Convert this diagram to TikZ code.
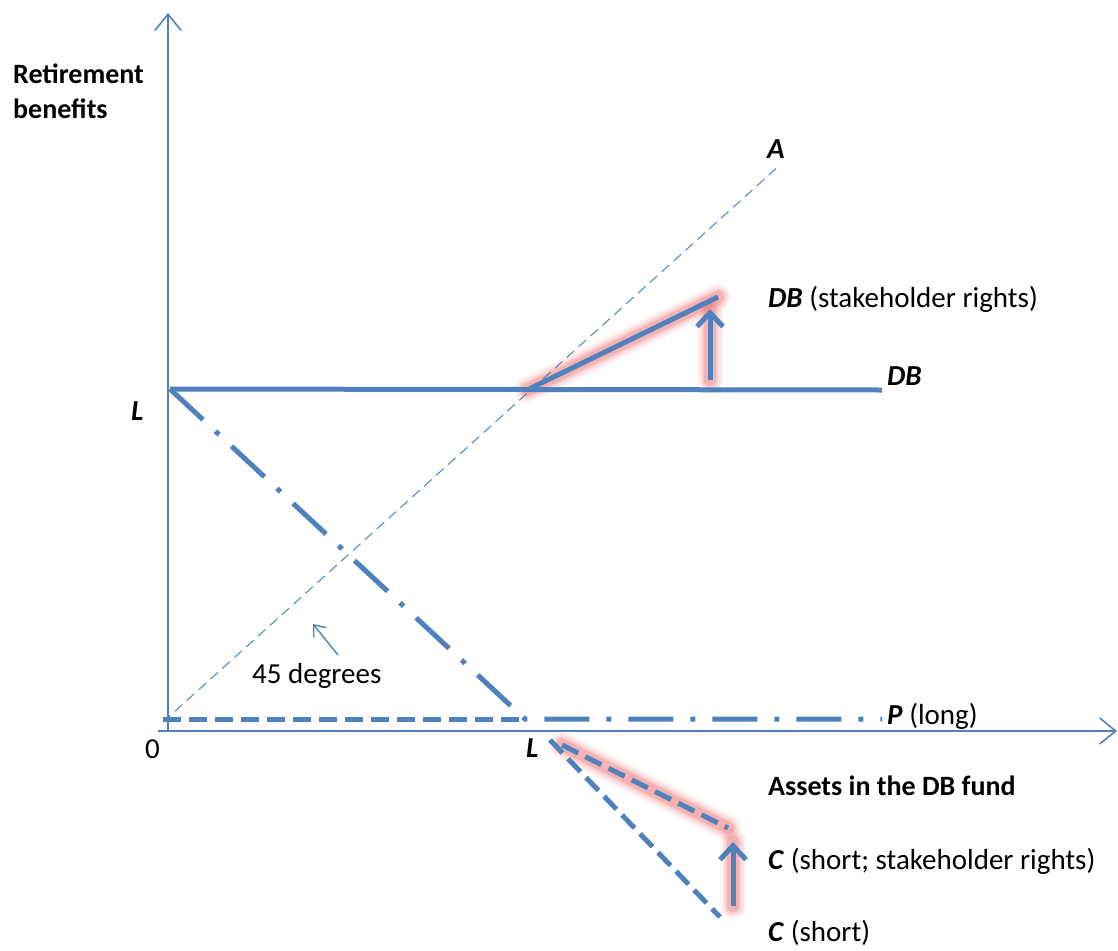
\documentclass[tikz,border=0pt]{standalone}
\usepackage{fontspec}
\setmainfont{Carlito}
\usetikzlibrary{arrows.meta}
\definecolor{lb}{RGB}{79,129,189}
\definecolor{glowc}{RGB}{240,100,100}
\tikzset{
  axisline/.style={draw=lb,line width=1.6pt,-{Straight Barb[length=16pt,width=26pt,line width=1.6pt]}},
  thickline/.style={draw=lb,line width=5pt},
  dashdotline/.style={draw=lb,line width=5pt,dash pattern=on 45pt off 17pt on 5pt off 17pt},
  thickdash/.style={draw=lb,line width=5pt,dash pattern=on 18pt off 8pt},
  thindash/.style={draw=lb,line width=1pt,dash pattern=on 10pt off 6pt},
  uparrow/.style={draw=lb,line width=5pt,-{Straight Barb[length=14pt,width=26pt,line width=5pt]}},
  thinarrow/.style={draw=lb,line width=1.4pt,-{Straight Barb[length=10pt,width=16pt,line width=1.4pt]}},
  glow/.style={draw=glowc,line cap=round},
  lbl/.style={anchor=base west,inner sep=0pt,font=\fontsize{29}{34}\selectfont},
  blbl/.style={lbl,font=\fontsize{29}{34}\selectfont\bfseries\itshape},
  bold/.style={lbl,font=\fontsize{28}{34}\selectfont\bfseries}
}
\newcommand{\glowline}[2]{%
  \draw[glow,line width=26pt,opacity=0.08] (#1) -- (#2);
  \draw[glow,line width=21pt,opacity=0.12] (#1) -- (#2);
  \draw[glow,line width=16pt,opacity=0.18] (#1) -- (#2);
  \draw[glow,line width=12pt,opacity=0.25] (#1) -- (#2);
}
\begin{document}
\begin{tikzpicture}[x=1pt,y=-1pt]
\useasboundingbox (0,0) rectangle (1118,950);
% coordinates
\coordinate (ybot) at (168,731);
\coordinate (ytop) at (168,13);
\coordinate (xl) at (158,731);
\coordinate (xr) at (1117,731);
\coordinate (o45) at (163,722);
\coordinate (A) at (780,165);
\coordinate (Lup) at (170,389);
\coordinate (DBend) at (882,390);
\coordinate (K) at (527,390);
\coordinate (S) at (718,297);
\coordinate (ua1) at (710,380);
\coordinate (ua2) at (710,309);
\coordinate (Pst) at (163,719);
\coordinate (Pk) at (525,719);
\coordinate (Pend) at (882,719);
\coordinate (c1) at (550,740);
\coordinate (c2) at (720,917);
\coordinate (s1) at (562,745);
\coordinate (s2) at (728,828);
\coordinate (ca1) at (733,906);
\coordinate (ca2) at (733,842);
\coordinate (d1) at (338,655);
\coordinate (d2) at (313,624);
% glows
\glowline{K}{S}
\glowline{ua1}{ua2}
\glowline{s1}{s2}
\glowline{ca1}{ca2}
% axes
\draw[axisline] (ybot) -- (ytop);
\draw[axisline] (xl) -- (xr);
% 45 degree line
\draw[thindash] (o45) -- (A);
% P long
\draw[thickdash] (Pst) -- (Pk);
% dash dot
\draw[dashdotline] (Lup) -- (Pk) -- (Pend);
% DB
\draw[thickline] (Lup) -- (DBend);
\draw[thickline] (K) -- (S);
\draw[uparrow] (ua1) -- (ua2);
% C lines
\draw[thickdash] (c1) -- (c2);
\draw[thickdash] (s1) -- (s2);
\draw[uparrow] (ca1) -- (ca2);
% 45 degrees arrow
\draw[thinarrow] (d1) -- (d2);
% labels
\node[bold] (rb1) at (13,83) {Retirement};
\node[bold] (rb2) at (13,118) {benefits};
\node[blbl] (lA) at (767,158) {A};
\node[lbl] (lDBs) at (768,307) {\textbf{\textit{DB}} (stakeholder rights)};
\node[blbl] (lDB) at (887,385) {DB};
\node[blbl] (lL1) at (131,420) {L};
\node[lbl] (l45) at (252,683) {45 degrees};
\node[lbl] (lP) at (887,724) {\textbf{\textit{P}} (long)};
\node[lbl] (l0) at (145,758) {0};
\node[blbl] (lL2) at (526,757) {L};
\node[bold] (lAs) at (768,795) {Assets in the DB fund};
\node[lbl] (lCs) at (768,869) {\textbf{\textit{C}} (short; stakeholder rights)};
\node[lbl] (lC) at (768,941) {\textbf{\textit{C}} (short)};
\end{tikzpicture}
\end{document}
